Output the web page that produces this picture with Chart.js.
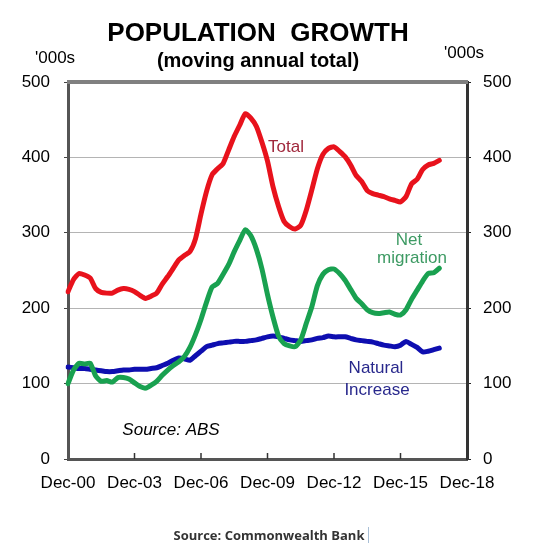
<!DOCTYPE html>
<html>
<head>
<meta charset="utf-8">
<title>Population growth</title>
<script src="https://cdn.jsdelivr.net/npm/chart.js@4.4.1/dist/chart.umd.min.js"></script>
<style>
    html, body { margin: 0; padding: 0; background: #fff; }
    canvas { display: block; }
</style>
</head>
<body>
<canvas id="popChart" width="542" height="550"></canvas>
<script>
// quarterly moving annual totals, '000s, Dec-00 .. Sep-17
const totalGrowth = [
    222, 238, 246, 244, 240, 226, 221, 220, 220, 224,
    226, 225, 222, 217, 213, 216, 220, 232, 242, 253,
    264, 270, 275, 292, 325, 355, 377, 385, 392, 410,
    428, 443, 458, 452, 441, 420, 395, 361, 335, 315,
    308, 305, 310, 330, 357, 385, 404, 412, 414, 408,
    401, 390, 376, 368, 356, 352, 350, 348, 345, 343,
    341, 348, 365, 371, 384, 390, 392, 396
];
const netMigration = [
    100, 118, 127, 126, 127, 110, 103, 104, 102, 108,
    108, 106, 101, 96, 94, 98, 103, 111, 118, 124,
    129, 136, 148, 165, 185, 208, 228, 233, 245, 258,
    275, 290, 304, 296, 278, 252, 218, 188, 163, 153,
    150, 149, 158, 180, 202, 230, 245, 251, 252, 246,
    237, 225, 213, 206, 198, 194, 193, 194, 195, 192,
    191, 198, 212, 224, 236, 246, 247, 253
];
const naturalIncrease = [
    122, 121, 120, 120, 119, 118, 117, 116, 116, 117,
    118, 118, 119, 119, 119, 120, 121, 124, 127, 131,
    134, 133, 131, 137, 143, 149, 151, 153, 154, 155,
    156, 156, 156, 157, 158, 160, 162, 163, 162, 160,
    158, 157, 156, 157, 158, 160, 161, 163, 162, 162,
    162, 160, 158, 157, 156, 155, 153, 151, 150, 149,
    151, 156, 152, 148, 142, 143, 145, 147
];
const tickLabels = ['Dec-00', 'Dec-03', 'Dec-06', 'Dec-09', 'Dec-12', 'Dec-15', 'Dec-18'];
const quarterMonths = ['Mar', 'Jun', 'Sep'];

// category labels: every quarter from Dec-00 to Dec-18
const quarterLabels = [];
for (let y = 0; y <= 18; y++) {
    const yy = String(y).padStart(2, '0');
    if (y > 0) {
        quarterMonths.forEach(m => quarterLabels.push(m + '-' + yy));
    }
    quarterLabels.push('Dec-' + yy);
}

const FONT = '"Liberation Sans", Arial, sans-serif';

// titles, series names, frame top and inward x ticks
const decorations = {
    id: 'decorations',
    afterDraw(chart) {
        const ctx = chart.ctx;
        const area = chart.chartArea;
        const xScale = chart.scales.x;
        ctx.save();

        // top of the frame
        ctx.strokeStyle = '#808080';
        ctx.lineWidth = 4;
        ctx.beginPath();
        ctx.moveTo(area.left - 1, area.top);
        ctx.lineTo(area.right + 1, area.top);
        ctx.stroke();

        // small ticks pointing up from the x axis
        ctx.strokeStyle = '#333';
        ctx.lineWidth = 1.5;
        quarterLabels.forEach((lab, i) => {
            if (!tickLabels.includes(lab) || i === 0 || i === quarterLabels.length - 1) return;
            const px = xScale.getPixelForValue(i);
            ctx.beginPath();
            ctx.moveTo(px, area.bottom);
            ctx.lineTo(px, area.bottom - 6);
            ctx.stroke();
        });

        ctx.textAlign = 'center';
        ctx.textBaseline = 'alphabetic';
        ctx.fillStyle = '#000';
        ctx.font = 'bold 26px ' + FONT;
        ctx.fillText('POPULATION  GROWTH', 258, 41);
        ctx.font = 'bold 20px ' + FONT;
        ctx.fillText('(moving annual total)', 258, 67);

        ctx.font = '17px ' + FONT;
        ctx.textAlign = 'left';
        ctx.fillText("'000s", 35, 63);
        ctx.fillText("'000s", 444, 58);

        ctx.font = 'italic 17px ' + FONT;
        ctx.textAlign = 'center';
        ctx.fillText('Source: ABS', 171, 435);

        ctx.font = '17px ' + FONT;
        ctx.textAlign = 'left';
        ctx.fillStyle = '#a0283c';
        ctx.fillText('Total', 268, 152);

        ctx.textAlign = 'center';
        ctx.fillStyle = '#3d9a63';
        ctx.fillText('Net', 409, 245);
        ctx.fillText('migration', 412, 263);

        ctx.fillStyle = '#28288c';
        ctx.fillText('Natural', 376, 373);
        ctx.fillText('Increase', 377, 395);

        ctx.font = 'bold 13px "Open Sans", sans-serif';
        ctx.fillStyle = '#333';
        ctx.fillText('Source: Commonwealth Bank', 269, 540);
        ctx.strokeStyle = '#a9bfd6';
        ctx.lineWidth = 1;
        ctx.beginPath();
        ctx.moveTo(368.5, 527);
        ctx.lineTo(368.5, 543);
        ctx.stroke();

        ctx.restore();
    }
};

const ctx = document.getElementById('popChart').getContext('2d');
const popChart = new Chart(ctx, {
    type: 'line',
    data: {
        labels: quarterLabels,
        datasets: [
            {
                label: 'Net migration',
                data: netMigration,
                borderColor: '#19a150'
            },
            {
                label: 'Total',
                data: totalGrowth,
                borderColor: '#e8121c'
            },
            {
                label: 'Natural Increase',
                data: naturalIncrease,
                borderColor: '#0e0eb0'
            }
        ]
    },
    options: {
        responsive: false,
        animation: false,
        layout: { padding: { top: 82, left: 0, right: 0, bottom: 0 } },
        elements: {
            line: { borderWidth: 5, tension: 0.2, borderJoinStyle: 'round', borderCapStyle: 'round' },
            point: { radius: 0 }
        },
        plugins: {
            legend: { display: false },
            title: { display: false },
            tooltip: { enabled: false }
        },
        scales: {
            x: {
                type: 'category',
                offset: false,
                afterFit: scale => { scale.height = 91; },
                grid: { display: false, drawTicks: false },
                border: { display: true, color: '#555', width: 3 },
                ticks: {
                    autoSkip: false,
                    maxRotation: 0,
                    padding: 14,
                    color: '#000',
                    font: { family: FONT, size: 17 },
                    callback: function (value, index) {
                        const lab = quarterLabels[index];
                        return tickLabels.includes(lab) ? lab : null;
                    }
                }
            },
            y: {
                position: 'left',
                min: 0,
                max: 500,
                afterFit: scale => { scale.width = 68; },
                grid: {
                    color: c => (c.tick.value === 0 || c.tick.value === 500) ? 'rgba(0,0,0,0)' : '#b4b4b4',
                    lineWidth: 1,
                    tickColor: '#444',
                    tickLength: 4
                },
                border: { display: true, color: '#555', width: 3 },
                ticks: {
                    stepSize: 100,
                    padding: 14,
                    color: '#000',
                    font: { family: FONT, size: 17 }
                }
            },
            y2: {
                position: 'right',
                min: 0,
                max: 500,
                afterFit: scale => { scale.width = 75; },
                grid: { drawOnChartArea: false, tickColor: '#222', tickLength: 4 },
                border: { display: true, color: '#333', width: 3 },
                ticks: {
                    stepSize: 100,
                    padding: 12,
                    color: '#000',
                    font: { family: FONT, size: 17 }
                }
            }
        }
    },
    plugins: [decorations]
});
</script>
</body>
</html>
